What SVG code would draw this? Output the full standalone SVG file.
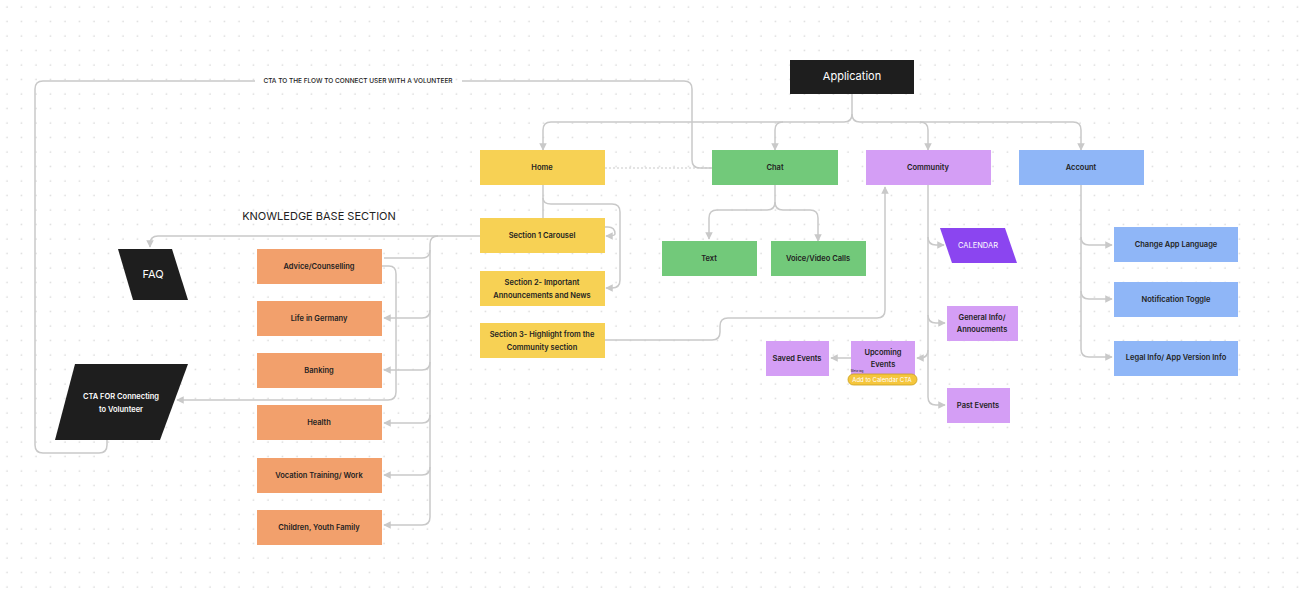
<svg xmlns="http://www.w3.org/2000/svg" width="1301" height="600" viewBox="0 0 1301 600">
<style>
text{font-family:Inter,"Liberation Sans",sans-serif;font-size:7.5px;font-weight:600;fill:#222;text-anchor:middle;dominant-baseline:middle}
.w{fill:#fff}
.c{fill:none;stroke:#c9c9c9;stroke-width:1.5}
.y{fill:#f7d154}.g{fill:#72c97a}.p{fill:#d49ef5}.b{fill:#8fb6f7}.o{fill:#f2a06c}.k{fill:#1e1e1e}
</style>
<defs>
<pattern id="dots" width="14.5" height="14.5" patternUnits="userSpaceOnUse"><circle cx="7" cy="7" r="0.8" fill="#d0d0d0"/></pattern>
<marker id="a" viewBox="0 0 10 10" refX="9" refY="5" markerWidth="5" markerHeight="5" orient="auto"><path d="M0,0L10,5L0,10z" fill="#c9c9c9"/></marker>
</defs>
<rect width="1301" height="600" fill="#fff"/>
<rect width="1301" height="600" fill="url(#dots)"/>
<g id="connectors">
<path class="c" d="M852,94V114Q852,122 844,122H551Q543,122 543,130V150" marker-end="url(#a)"/>
<path class="c" d="M852,114Q852,122 860,122H1073Q1081,122 1081,130V150" marker-end="url(#a)"/>
<path class="c" d="M783,122Q775,122 775,130V150" marker-end="url(#a)"/>
<path class="c" d="M920,122Q928,122 928,130V150" marker-end="url(#a)"/>
<path class="c" d="M712,168H700Q692,168 692,160V89Q692,81 684,81H462M255,81H43Q35,81 35,89V445Q35,453 43,453H99Q107,453 107,445V440"/>
<path d="M605,168H712" fill="none" stroke="#c9c9c9" stroke-width="1" stroke-dasharray="2,2"/>
<path class="c" d="M543,185V198Q543,204 551,204H612Q620,204 620,212V280Q620,288 612,288H606" marker-end="url(#a)"/>
<path class="c" d="M543,198V220Q543,227 551,227H608Q615,227 615,234Q615,236 606,236" marker-end="url(#a)"/>
<path class="c" d="M480,236H158Q150,236 150,244V247" marker-end="url(#a)"/>
<path class="c" d="M438,236Q430,236 430,244V517Q430,525 422,525H384" marker-end="url(#a)"/>
<path class="c" d="M430,250Q430,258 422,258H384"/>
<path class="c" d="M430,310Q430,318 422,318H384" marker-end="url(#a)"/>
<path class="c" d="M430,362Q430,370 422,370H384" marker-end="url(#a)"/>
<path class="c" d="M430,415Q430,423 422,423H384" marker-end="url(#a)"/>
<path class="c" d="M430,467Q430,475 422,475H384" marker-end="url(#a)"/>
<path class="c" d="M382,266H389Q396,266 396,274V392Q396,400 388,400H177" marker-end="url(#a)"/>
<path class="c" d="M775,185V202Q775,210 767,210H717Q709,210 709,218V239" marker-end="url(#a)"/>
<path class="c" d="M775,202Q775,210 783,210H810Q818,210 818,218V241" marker-end="url(#a)"/>
<path class="c" d="M605,340H712Q720,340 720,332V326Q720,318 728,318H877Q885,318 885,310V187" marker-end="url(#a)"/>
<path class="c" d="M928,185V397Q928,405 936,405H945" marker-end="url(#a)"/>
<path class="c" d="M928,237Q928,245 936,245H944" marker-end="url(#a)"/>
<path class="c" d="M928,315Q928,323 936,323H945" marker-end="url(#a)"/>
<path class="c" d="M928,350Q928,358 920,358H917" marker-end="url(#a)"/>
<path class="c" d="M851,358H831" marker-end="url(#a)"/>
<path class="c" d="M1081,185V349Q1081,357 1089,357H1112" marker-end="url(#a)"/>
<path class="c" d="M1081,237Q1081,245 1089,245H1112" marker-end="url(#a)"/>
<path class="c" d="M1081,291Q1081,299 1089,299H1112" marker-end="url(#a)"/>
</g>
<text x="358" y="81" style="font-size:6.5px;font-weight:500">CTA TO THE FLOW TO CONNECT USER WITH A VOLUNTEER</text>
<text x="319" y="217" style="font-size:11px;font-weight:400">KNOWLEDGE BASE SECTION</text>
<g id="application"><rect class="k" x="790" y="60" width="124" height="34"/><text class="w" x="852" y="77" style="font-size:11px;font-weight:400">Application</text></g>
<g id="home"><rect class="y" x="480" y="150" width="125" height="35"/><text x="542" y="168">Home</text></g>
<g id="chat"><rect class="g" x="712" y="150" width="126" height="35"/><text x="775" y="168">Chat</text></g>
<g id="community"><rect class="p" x="866" y="150" width="125" height="35"/><text x="928" y="168">Community</text></g>
<g id="account"><rect class="b" x="1019" y="150" width="125" height="35"/><text x="1081" y="168">Account</text></g>
<g id="section1"><rect class="y" x="480" y="218" width="125" height="35"/><text x="542" y="236">Section 1 Carousel</text></g>
<g id="section2"><rect class="y" x="480" y="271" width="125" height="35"/><text x="542" y="283">Section 2-  Important</text><text x="542" y="296">Announcements and News</text></g>
<g id="section3"><rect class="y" x="480" y="323" width="125" height="35"/><text x="542" y="335">Section 3- Highlight from the</text><text x="542" y="348">Community section</text></g>
<g id="faq"><polygon class="k" points="118,249 172,249 188,300 133,300"/><text class="w" x="153" y="275" style="font-size:11px;font-weight:400">FAQ</text></g>
<g id="cta"><polygon class="k" points="75,364 188,364 160,440 55,440"/><text class="w" x="121" y="397">CTA FOR Connecting</text><text class="w" x="121" y="410">to Volunteer</text></g>
<g id="advice"><rect class="o" x="257" y="249" width="125" height="35"/><text x="319" y="267">Advice/Counselling</text></g>
<g id="life"><rect class="o" x="257" y="301" width="125" height="35"/><text x="319" y="319">Life in Germany</text></g>
<g id="banking"><rect class="o" x="257" y="353" width="125" height="35"/><text x="319" y="371">Banking</text></g>
<g id="health"><rect class="o" x="257" y="405" width="125" height="35"/><text x="319" y="423">Health</text></g>
<g id="vocation"><rect class="o" x="257" y="458" width="125" height="35"/><text x="319" y="476">Vocation Training/ Work</text></g>
<g id="children"><rect class="o" x="257" y="510" width="125" height="35"/><text x="319" y="528">Children, Youth Family</text></g>
<g id="text"><rect class="g" x="662" y="241" width="95" height="35"/><text x="709" y="259">Text</text></g>
<g id="voice"><rect class="g" x="771" y="241" width="95" height="35"/><text x="818" y="259">Voice/Video Calls</text></g>
<g id="calendar"><polygon points="940,228 1005,228 1017,263 952,263" fill="#8b45f0"/><text class="w" x="978" y="246" style="font-weight:400">CALENDAR</text></g>
<g id="general"><rect class="p" x="947" y="306" width="71" height="35"/><text x="982" y="318">General Info/</text><text x="982" y="330">Annoucments</text></g>
<g id="upcoming"><rect class="p" x="851" y="341" width="64" height="35"/><text x="883" y="353">Upcoming</text><text x="883" y="365">Events</text></g>
<g id="saved"><rect class="p" x="766" y="341" width="63" height="35"/><text x="797" y="359">Saved Events</text></g>
<g id="tag"><text x="857" y="371" style="font-size:3px;font-weight:400">Meta tag</text><rect x="848" y="374" width="69" height="11" rx="5.5" fill="#f5c63c" stroke="#c9a020" stroke-width="0.8"/><text class="w" x="882" y="380" style="font-size:6px;font-weight:400">Add to Calendar CTA</text></g>
<g id="past"><rect class="p" x="947" y="388" width="63" height="35"/><text x="978" y="406">Past Events</text></g>
<g id="language"><rect class="b" x="1114" y="227" width="124" height="35"/><text x="1176" y="245">Change App Language</text></g>
<g id="notification"><rect class="b" x="1114" y="282" width="124" height="35"/><text x="1176" y="300">Notification Toggle</text></g>
<g id="legal"><rect class="b" x="1114" y="341" width="124" height="35"/><text x="1176" y="358">Legal Info/ App Version Info</text></g>
</svg>
